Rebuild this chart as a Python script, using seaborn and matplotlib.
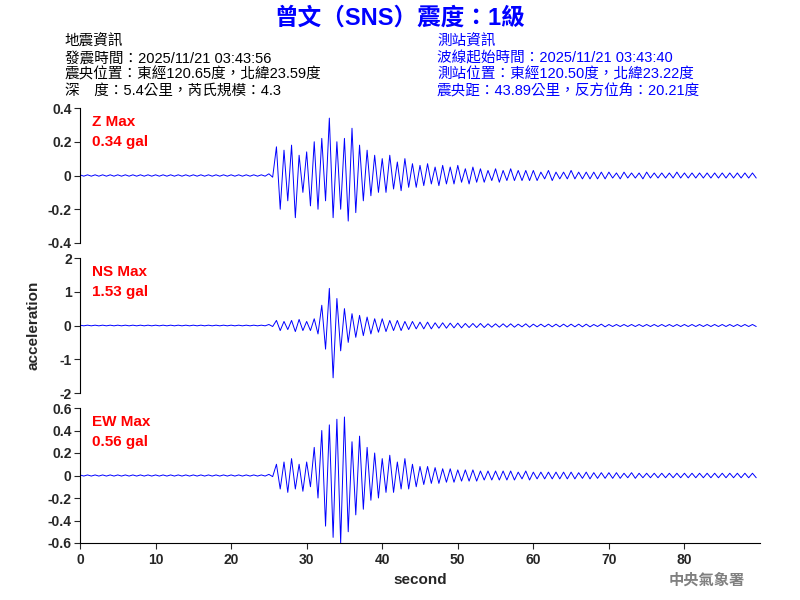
import matplotlib
matplotlib.use("Agg")
import matplotlib.pyplot as plt
import seaborn as sns
import numpy as np

sns.set_style("white")
plt.rcParams['font.family'] = ['Liberation Sans', 'Noto Sans CJK TC', 'DejaVu Sans']

# per-second peak values (upper, lower), t = 0..89 s
pre = 25
z_up = [0.004]*pre + [0.01,0.17,0.15,0.18,0.12,0.14,0.2,0.22,0.34,0.2,0.22,0.28,0.18,0.15,0.12,0.1,0.12,0.08,0.1,0.07,
        0.06,0.07,0.05,0.06,0.05,0.06,0.04,0.05,0.04,0.03,0.04,0.03,0.04,0.03,0.03,0.03,0.02,0.03,0.02,0.02,
        0.03,0.02,0.02,0.02,0.02,0.02,0.015,0.02,0.015,0.015,0.02,0.015,0.015,0.015,0.02,0.015,0.015,0.015,0.015,0.015,
        0.015,0.015,0.015,0.015,0.015]
z_dn = [-0.004]*pre + [-0.01,-0.2,-0.15,-0.25,-0.1,-0.18,-0.2,-0.15,-0.25,-0.2,-0.27,-0.22,-0.15,-0.12,-0.1,-0.1,-0.08,-0.09,-0.07,-0.07,
        -0.06,-0.05,-0.06,-0.05,-0.05,-0.04,-0.05,-0.04,-0.04,-0.03,-0.04,-0.03,-0.03,-0.03,-0.03,-0.03,-0.02,-0.03,-0.02,-0.02,
        -0.02,-0.02,-0.02,-0.02,-0.02,-0.015,-0.02,-0.015,-0.015,-0.02,-0.015,-0.015,-0.015,-0.015,-0.015,-0.015,-0.015,-0.015,-0.015,-0.015,
        -0.015,-0.015,-0.015,-0.015,-0.015]
ns_up = [0.01]*pre + [0.03,0.15,0.12,0.15,0.18,0.12,0.2,0.6,1.1,0.8,0.5,0.35,0.3,0.25,0.2,0.2,0.15,0.15,0.12,0.12,
        0.1,0.1,0.08,0.08,0.07,0.07,0.06,0.06,0.06,0.05,0.05,0.05,0.05,0.04,0.05,0.04,0.04,0.04,0.04,0.04,
        0.04,0.04,0.04,0.03,0.04,0.03,0.03,0.03,0.03,0.03,0.03,0.03,0.03,0.03,0.03,0.03,0.03,0.03,0.03,0.03,
        0.03,0.03,0.03,0.03,0.03]
ns_dn = [-0.01]*pre + [-0.03,-0.15,-0.12,-0.18,-0.15,-0.15,-0.25,-0.7,-1.55,-0.75,-0.5,-0.35,-0.3,-0.25,-0.2,-0.18,-0.15,-0.15,-0.12,-0.1,
        -0.1,-0.1,-0.08,-0.08,-0.07,-0.07,-0.06,-0.06,-0.06,-0.05,-0.05,-0.05,-0.05,-0.04,-0.05,-0.04,-0.04,-0.04,-0.04,-0.04,
        -0.04,-0.04,-0.04,-0.03,-0.04,-0.03,-0.03,-0.03,-0.03,-0.03,-0.03,-0.03,-0.03,-0.03,-0.03,-0.03,-0.03,-0.03,-0.03,-0.03,
        -0.03,-0.03,-0.03,-0.03,-0.03]
ew_up = [0.005]*pre + [0.01,0.1,0.12,0.15,0.1,0.12,0.25,0.4,0.45,0.5,0.52,0.3,0.35,0.25,0.2,0.15,0.18,0.12,0.15,0.1,
        0.08,0.08,0.07,0.06,0.06,0.05,0.05,0.05,0.04,0.04,0.04,0.04,0.04,0.03,0.04,0.03,0.03,0.03,0.03,0.03,
        0.03,0.025,0.03,0.025,0.025,0.025,0.025,0.02,0.025,0.02,0.02,0.02,0.02,0.02,0.02,0.02,0.02,0.02,0.02,0.02,
        0.02,0.02,0.02,0.02,0.02]
ew_dn = [-0.005]*pre + [-0.01,-0.12,-0.15,-0.12,-0.14,-0.1,-0.2,-0.45,-0.55,-0.6,-0.5,-0.35,-0.3,-0.22,-0.2,-0.15,-0.15,-0.12,-0.12,-0.1,
        -0.08,-0.07,-0.07,-0.06,-0.06,-0.05,-0.05,-0.05,-0.04,-0.04,-0.04,-0.04,-0.04,-0.03,-0.04,-0.03,-0.03,-0.03,-0.03,-0.03,
        -0.03,-0.025,-0.03,-0.025,-0.025,-0.025,-0.025,-0.02,-0.025,-0.02,-0.02,-0.02,-0.02,-0.02,-0.02,-0.02,-0.02,-0.02,-0.02,-0.02,
        -0.02,-0.02,-0.02,-0.02,-0.02]

channels = [("Z Max", "0.34 gal", z_up, z_dn, 0.4, [-0.4,-0.2,0,0.2,0.4]),
            ("NS Max", "1.53 gal", ns_up, ns_dn, 2, [-2,-1,0,1,2]),
            ("EW Max", "0.56 gal", ew_up, ew_dn, 0.6, [-0.6,-0.4,-0.2,0,0.2,0.4,0.6])]

fig = plt.figure(figsize=(8, 6), dpi=100)
tops = [108, 258, 408]
for i, (lab, val, up, dn, lim, ticks) in enumerate(channels):
    ax = fig.add_axes([80/800, 1-(tops[i]+135)/600, 680/800, 135/600])
    t = np.arange(len(up))
    xs = np.ravel(np.column_stack([t, t+0.5]))
    ys = np.ravel(np.column_stack([up, dn]))
    sns.lineplot(x=xs, y=ys, ax=ax, color="blue", lw=0.7, sort=False, estimator=None)
    ax.set_xlim(0, 90); ax.set_ylim(-lim, lim)
    ax.set_yticks(ticks)
    ax.set_yticklabels([f"{v:g}" for v in ticks], fontsize=10, fontweight="bold")
    for s in ["top", "right"]:
        ax.spines[s].set_visible(False)
    ax.spines["left"].set_color("black"); ax.spines["bottom"].set_color("black")
    ax.tick_params(axis='y', left=True, length=4, pad=2)
    if i < 2:
        ax.spines["bottom"].set_visible(False)
        ax.set_xticks([])
    else:
        ax.set_xticks(range(0, 90, 10))
        ax.set_xticklabels([str(v) for v in range(0, 90, 10)], fontsize=10, fontweight="bold")
        ax.tick_params(axis='x', bottom=True, length=4)
        ax.set_xlabel("second", fontsize=11, fontweight="bold")
    ax.text(0.017, 0.95, lab, transform=ax.transAxes, color="red", fontsize=11, va="top", fontweight="bold")
    ax.text(0.017, 0.80, val, transform=ax.transAxes, color="red", fontsize=11, va="top", fontweight="bold")

fig.text(33/800, 1-325/600, "acceleration", rotation=90, ha="center", va="center",
         fontsize=11, fontweight="bold")
fig.text(0.5, 1-18/600, "曾文（SNS）震度：1級", ha="center", va="center", color="blue",
         fontsize=17, fontweight="bold")
left = ["地震資訊", "發震時間：2025/11/21 03:43:56", "震央位置：東經120.65度，北緯23.59度",
        "深　度：5.4公里，芮氏規模：4.3"]
right = ["測站資訊", "波線起始時間：2025/11/21 03:43:40", "測站位置：東經120.50度，北緯23.22度",
         "震央距：43.89公里，反方位角：20.21度"]
for k, (a, b) in enumerate(zip(left, right)):
    y = 1-(42+16.3*k)/600
    fig.text(65/800, y, a, va="center", fontsize=10.5, color="black")
    fig.text(437/800, y, b, va="center", fontsize=10.5, color="blue")
fig.text(745/800, 1-580/600, "中央氣象署", ha="right", va="center", color="gray",
         fontsize=11, fontweight="bold")
fig.savefig("out.png", dpi=100)
